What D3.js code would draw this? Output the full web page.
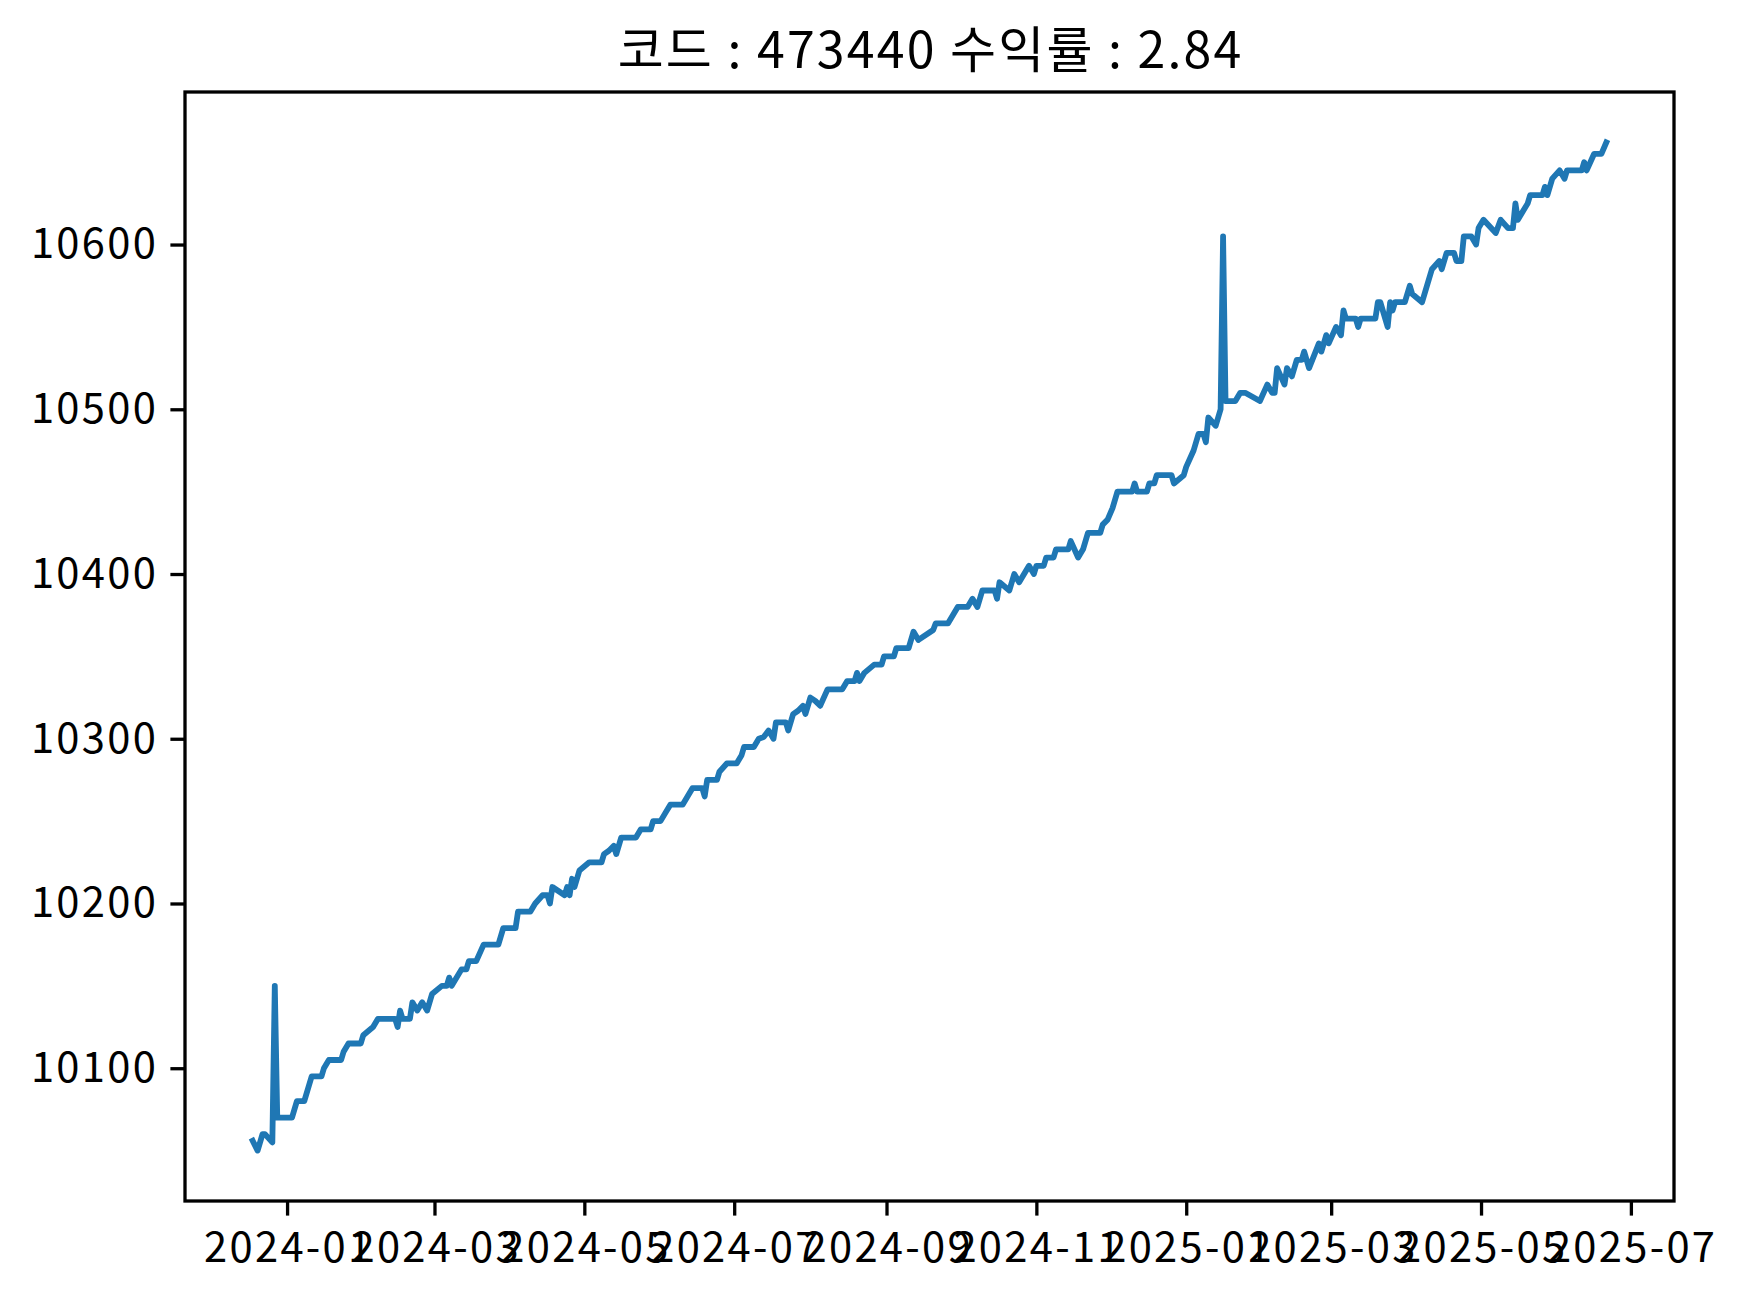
<!DOCTYPE html>
<meta charset="utf-8">

<style type="text/css">
body {
    margin: 0;
    background: #fff;
}

/* price line */
.line {
    fill: none;
    stroke: #1f77b4;
    stroke-width: 5.8;
    stroke-linejoin: round;
    stroke-linecap: square;
}

.frame {
    fill: none;
    stroke: #000;
    stroke-width: 3.3;
}

.axis path { display: none; }
.axis line { stroke: #000; stroke-width: 3.3; }
.axis text {
    font-family: "Noto Sans CJK KR", "Noto Sans", sans-serif;
    font-size: 41.7px;
    letter-spacing: 2.3px;
    fill: #000;
}

.title {
    font-family: "Noto Sans CJK KR", "Noto Sans", sans-serif;
    font-size: 50px;
    letter-spacing: 2.2px;
    fill: #000;
}
</style>
<body>
    <div id="chart"></div>
</body>

<script src="https://d3js.org/d3.v7.min.js"></script>
<script>

// values
var dates = [
  "2023-12-18","2023-12-20","2023-12-22","2023-12-23","2023-12-26","2023-12-27","2023-12-28",
  "2024-01-03","2024-01-05","2024-01-08","2024-01-11","2024-01-15","2024-01-16","2024-01-18",
  "2024-01-23","2024-01-24","2024-01-26","2024-01-31","2024-02-01","2024-02-05","2024-02-07",
  "2024-02-14","2024-02-15","2024-02-16","2024-02-17","2024-02-20","2024-02-21","2024-02-23",
  "2024-02-25","2024-02-27","2024-02-29","2024-03-04","2024-03-06","2024-03-07","2024-03-08",
  "2024-03-12","2024-03-14","2024-03-15","2024-03-18","2024-03-21","2024-03-27","2024-03-29",
  "2024-04-03","2024-04-04","2024-04-09","2024-04-11","2024-04-14","2024-04-16","2024-04-17",
  "2024-04-18","2024-04-23","2024-04-24","2024-04-25","2024-04-26","2024-04-27","2024-04-29",
  "2024-05-03","2024-05-08","2024-05-09","2024-05-11","2024-05-13","2024-05-14","2024-05-16",
  "2024-05-22","2024-05-24","2024-05-28","2024-05-29","2024-06-01","2024-06-03","2024-06-05",
  "2024-06-10","2024-06-12","2024-06-14","2024-06-18","2024-06-19","2024-06-20","2024-06-24",
  "2024-06-25","2024-06-28","2024-07-02","2024-07-04","2024-07-05","2024-07-09","2024-07-11",
  "2024-07-13","2024-07-15","2024-07-17","2024-07-18","2024-07-22","2024-07-23","2024-07-25",
  "2024-07-27","2024-07-29","2024-07-30","2024-08-01","2024-08-03","2024-08-05","2024-08-08",
  "2024-08-14","2024-08-16","2024-08-19","2024-08-20","2024-08-21","2024-08-23","2024-08-27",
  "2024-08-30","2024-08-31","2024-09-04","2024-09-05","2024-09-10","2024-09-12","2024-09-14",
  "2024-09-20","2024-09-21","2024-09-26","2024-09-28","2024-09-30","2024-10-04","2024-10-06",
  "2024-10-08","2024-10-10","2024-10-15","2024-10-16","2024-10-17","2024-10-21","2024-10-23",
  "2024-10-25","2024-10-27","2024-10-29","2024-10-31","2024-11-01","2024-11-04","2024-11-05",
  "2024-11-08","2024-11-09","2024-11-14","2024-11-15","2024-11-18","2024-11-20","2024-11-22",
  "2024-11-27","2024-11-28","2024-11-30","2024-12-02","2024-12-04","2024-12-10","2024-12-11",
  "2024-12-12","2024-12-16","2024-12-17","2024-12-19","2024-12-20","2024-12-26","2024-12-27",
  "2024-12-31","2025-01-01","2025-01-04","2025-01-06","2025-01-08","2025-01-09","2025-01-10",
  "2025-01-13","2025-01-15","2025-01-16","2025-01-17","2025-01-21","2025-01-23","2025-01-25",
  "2025-01-31","2025-02-03","2025-02-05","2025-02-06","2025-02-07","2025-02-10","2025-02-11",
  "2025-02-13","2025-02-15","2025-02-17","2025-02-18","2025-02-20","2025-02-24","2025-02-25",
  "2025-02-27","2025-02-28","2025-03-03","2025-03-05","2025-03-06","2025-03-07","2025-03-11",
  "2025-03-12","2025-03-13","2025-03-19","2025-03-20","2025-03-21","2025-03-24","2025-03-25",
  "2025-03-26","2025-03-27","2025-03-31","2025-04-02","2025-04-03","2025-04-07","2025-04-11",
  "2025-04-14","2025-04-15","2025-04-17","2025-04-20","2025-04-21","2025-04-23","2025-04-24",
  "2025-04-27","2025-04-29","2025-04-30","2025-05-02","2025-05-07","2025-05-09","2025-05-12",
  "2025-05-14","2025-05-15","2025-05-16","2025-05-18","2025-05-20","2025-05-21","2025-05-26",
  "2025-05-27","2025-05-28","2025-05-30","2025-06-02","2025-06-04","2025-06-05","2025-06-11",
  "2025-06-12","2025-06-13","2025-06-16","2025-06-19","2025-06-21"
];

var prices = [
  10056,10050,10060,10060,10055,10150,10070,
  10070,10080,10080,10095,10095,10100,10105,
  10105,10110,10115,10115,10120,10125,10130,
  10130,10125,10135,10130,10130,10140,10135,
  10140,10135,10145,10150,10150,10155,10150,
  10160,10160,10165,10165,10175,10175,10185,
  10185,10195,10195,10200,10205,10205,10200,
  10210,10205,10210,10205,10215,10210,10220,
  10225,10225,10230,10232,10235,10230,10240,
  10240,10245,10245,10250,10250,10255,10260,
  10260,10265,10270,10270,10265,10275,10275,
  10280,10285,10285,10290,10295,10295,10300,
  10301,10305,10300,10310,10310,10305,10315,
  10317,10320,10315,10325,10323,10320,10330,
  10330,10335,10335,10340,10335,10340,10345,
  10345,10350,10350,10355,10355,10365,10360,
  10366,10370,10370,10375,10380,10380,10385,
  10380,10390,10390,10385,10395,10390,10400,
  10395,10400,10405,10400,10405,10405,10410,
  10410,10415,10415,10420,10410,10415,10425,
  10425,10430,10433,10440,10450,10450,10455,
  10450,10450,10455,10455,10460,10460,10455,
  10460,10465,10475,10485,10485,10480,10495,
  10490,10500,10605,10505,10505,10510,10510,
  10505,10515,10510,10510,10525,10515,10525,
  10520,10530,10530,10535,10525,10540,10535,
  10545,10540,10550,10545,10560,10555,10555,
  10550,10555,10555,10565,10565,10550,10565,
  10560,10565,10565,10575,10570,10565,10585,
  10590,10585,10595,10595,10590,10590,10605,
  10605,10600,10610,10615,10607,10615,10610,
  10610,10625,10615,10620,10625,10630,10630,
  10635,10630,10640,10645,10640,10645,10645,
  10650,10645,10655,10655,10662
];

var yTicks = [10100, 10200, 10300, 10400, 10500, 10600];
var xTickDates = ["2024-01-01","2024-03-01","2024-05-01","2024-07-01","2024-09-01",
                  "2024-11-01","2025-01-01","2025-03-01","2025-05-01","2025-07-01"];
var titleText = "코드 : 473440 수익률 : 2.84";

// layout (matplotlib-like axes box)
var margin = {top: 92, right: 72, bottom: 99, left: 185}
  , width = 1746 - margin.left - margin.right
  , height = 1300 - margin.top - margin.bottom;

var parseDate = d3.timeParse("%Y-%m-%d");
var data = dates.map(function(d, i) { return {date: parseDate(d), y: prices[i]}; });

// 5% padding around the data, like matplotlib
var xExt = d3.extent(data, function(d) { return d.date; });
var xPad = (xExt[1] - xExt[0]) * 0.05;
var xScale = d3.scaleTime()
    .domain([new Date(+xExt[0] - xPad), new Date(+xExt[1] + xPad)])
    .range([0, width]);

var yExt = d3.extent(data, function(d) { return d.y; });
var yPad = (yExt[1] - yExt[0]) * 0.05;
var yScale = d3.scaleLinear()
    .domain([yExt[0] - yPad, yExt[1] + yPad])
    .range([height, 0]);

var line = d3.line()
    .x(function(d) { return xScale(d.date); })
    .y(function(d) { return yScale(d.y); });

var svg = d3.select("#chart").append("svg")
    .attr("width", 1746)
    .attr("height", 1300)
  .append("g")
    .attr("transform", "translate(" + margin.left + "," + margin.top + ")");

svg.append("path")
    .datum(data)
    .attr("class", "line")
    .attr("d", line);

// x axis
var xAxis = svg.append("g")
    .attr("class", "x axis")
    .attr("transform", "translate(0," + height + ")")
    .call(d3.axisBottom(xScale)
        .tickValues(xTickDates.map(parseDate))
        .tickFormat(d3.timeFormat("%Y-%m"))
        .tickSize(14.6)
        .tickPadding(16));
xAxis.selectAll("text").attr("dy", "0.72em").attr("dx", 1.2);

// y axis
var yAxis = svg.append("g")
    .attr("class", "y axis")
    .call(d3.axisLeft(yScale)
        .tickValues(yTicks)
        .tickFormat(d3.format("d"))
        .tickSize(14.6)
        .tickPadding(14.6));
yAxis.selectAll("text").attr("dx", 2.3);

// box around the plot
svg.append("rect")
    .attr("class", "frame")
    .attr("width", width)
    .attr("height", height);

svg.append("text")
    .attr("class", "title")
    .attr("x", width / 2 + 1.1)
    .attr("y", -24)
    .attr("text-anchor", "middle")
    .text(titleText);

</script>
